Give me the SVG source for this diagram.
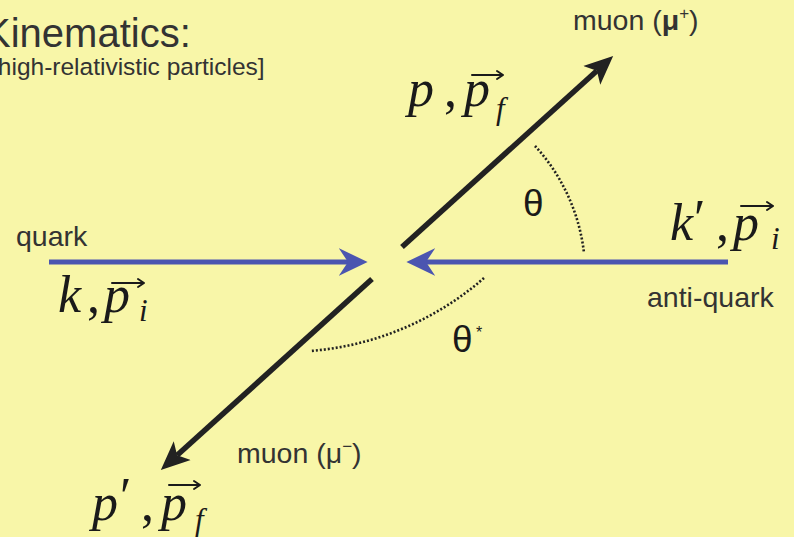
<svg xmlns="http://www.w3.org/2000/svg" width="794" height="537" viewBox="0 0 794 537">
<defs>
<style>
.lbl{font-family:"Liberation Sans",Arial,sans-serif;font-size:28.5px;fill:#333}
.math{font-family:"Liberation Serif","Times New Roman",serif;font-style:italic;font-size:52px;fill:#1a1a1a}
.up{font-family:"Liberation Serif","Times New Roman",serif;font-size:52px;fill:#1a1a1a}
.sub{font-family:"Liberation Serif","Times New Roman",serif;font-style:italic;font-size:31px;fill:#1a1a1a}
.th{font-family:"Liberation Sans",Arial,sans-serif;font-size:37px;fill:#1a1a1a}
.blk{stroke:#222;stroke-width:5.5;fill:none}
.blu{stroke:#4b55b0;stroke-width:5;fill:none}
.dot{stroke:#222;stroke-width:2.6;stroke-dasharray:2 2;fill:none}
.vec{stroke:#1a1a1a;stroke-width:2;fill:none;stroke-linecap:round;stroke-linejoin:round}
</style>
<marker id="hb" markerUnits="userSpaceOnUse" markerWidth="30" markerHeight="30" viewBox="0 -12 26 24" refX="6" refY="0" orient="auto">
<path d="M0,-11 L25,0 L0,11 L6,0 Z" fill="#222"/>
</marker>
<marker id="hu" markerUnits="userSpaceOnUse" markerWidth="30" markerHeight="30" viewBox="0 -13 26 26" refX="8" refY="0" orient="auto">
<path d="M0,-12 L25,0 L0,12 L8,0 Z" fill="#4b55b0"/>
</marker>
</defs>
<rect width="794" height="537" fill="#f8f6a8"/>

<g id="title">
<text x="-16" y="47" style="font-family:'Liberation Sans',Arial,sans-serif;font-size:40px;fill:#333">Kinematics:</text>
<text x="-9" y="75" style="font-family:'Liberation Sans',Arial,sans-serif;font-size:24.5px;fill:#333">[high-relativistic particles]</text>
</g>

<g id="connectors">
<line class="blu" x1="49" y1="262" x2="348" y2="262" marker-end="url(#hu)"/>
<line class="blu" x1="728" y1="262" x2="426" y2="262" marker-end="url(#hu)"/>
<line class="blk" x1="402" y1="247" x2="596.9" y2="70.7" marker-end="url(#hb)"/>
<line class="blk" x1="372" y1="279" x2="177.1" y2="455.3" marker-end="url(#hb)"/>
<path class="dot" d="M535,146 A190,190 0 0 1 584,253"/>
<path class="dot" d="M484,278 A300,300 0 0 1 310,351"/>
</g>

<g id="quark">
<text class="lbl" x="16" y="246">quark</text>
<text class="math" x="58" y="312">k</text>
<text class="up" x="87" y="312">,</text>
<text class="math" x="104" y="312">p</text>
<path class="vec" d="M112,283 H144 M138,279 L144,283 L138,287"/>
<text class="sub" x="139" y="321">i</text>
</g>

<g id="antiquark">
<text class="lbl" x="647" y="307">anti-quark</text>
<text class="math" x="670" y="240">k</text>
<text class="up" x="694" y="236">′</text>
<text class="up" x="716" y="240">,</text>
<text class="math" x="733" y="240">p</text>
<path class="vec" d="M741,206 H773 M767,202 L773,206 L767,210"/>
<text class="sub" x="771" y="249">i</text>
</g>

<g id="muon-plus">
<text class="lbl" x="573" y="30">muon (<tspan font-weight="bold">μ</tspan><tspan font-size="17" dy="-11">+</tspan><tspan dy="11">)</tspan></text>
<text class="math" x="408" y="106">p</text>
<text class="up" x="444" y="106">,</text>
<text class="math" x="464" y="106">p</text>
<path class="vec" d="M472,75 H503 M497,71 L503,75 L497,79"/>
<text class="sub" x="496" y="119">f</text>
</g>

<g id="muon-minus">
<text class="lbl" x="237" y="463">muon (μ<tspan font-size="17" dy="-11">−</tspan><tspan dy="11">)</tspan></text>
<text class="math" x="92" y="520">p</text>
<text class="up" x="120" y="514">′</text>
<text class="up" x="141" y="520">,</text>
<text class="math" x="161" y="520">p</text>
<path class="vec" d="M169,485 H200 M194,481 L200,485 L194,489"/>
<text class="sub" x="195" y="530">f</text>
</g>

<g id="angles">
<text class="th" x="523" y="216">θ</text>
<text class="th" x="452" y="352">θ</text>
<text x="476" y="338" style="font-family:'Liberation Sans',Arial,sans-serif;font-size:16px;fill:#1a1a1a">*</text>
</g>
</svg>
